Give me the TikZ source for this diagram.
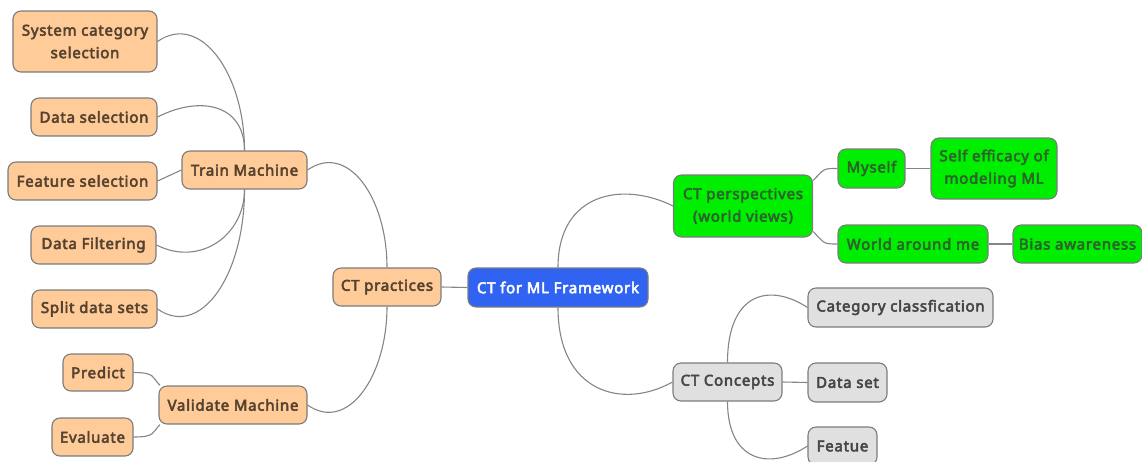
\documentclass[tikz,border=0pt]{standalone}
\usepackage{fontspec}
\setmainfont{Noto Sans}[BoldFont={Noto Sans}, BoldFeatures={FakeBold=3.5, LetterSpace=5}]
\usetikzlibrary{calc,backgrounds}
\definecolor{orfill}{HTML}{FFCB98}
\definecolor{ortext}{HTML}{554330}
\definecolor{grfill}{HTML}{00EE00}
\definecolor{grtext}{HTML}{2C642C}
\definecolor{blfill}{HTML}{3063F2}
\definecolor{gyfill}{HTML}{E0E0E0}
\definecolor{gytext}{HTML}{464646}
\definecolor{bord}{HTML}{7C7C7C}
\definecolor{edge}{HTML}{858585}
\begin{document}
\begin{tikzpicture}[x=1pt,y=-1pt,
  box/.style={draw=bord, line width=1.1pt, rounded corners=8pt, inner sep=1pt,
    align=center, font=\fontsize{15}{22.5}\selectfont\bfseries},
  orn/.style={box, fill=orfill, text=ortext},
  grn/.style={box, fill=grfill, text=grtext},
  blu/.style={box, fill=blfill, text=white},
  gry/.style={box, fill=gyfill, text=gytext},
  con/.style={draw=edge, line width=1.1pt}]
\useasboundingbox (0,0) rectangle (1142,461);
% left branch
\node[orn, minimum width=144pt, minimum height=61pt] (sys) at (85,41.5) {System category\\selection};
\node[orn, minimum width=126pt, minimum height=38pt] (dsel) at (94,117) {Data selection};
\node[orn, minimum width=149pt, minimum height=38pt] (fsel) at (82.5,181) {Feature selection};
\node[orn, minimum width=125pt, minimum height=38pt] (dfil) at (93.5,245) {Data Filtering};
\node[orn, minimum width=125pt, minimum height=38pt] (split) at (94.5,309) {Split data sets};
\node[orn, minimum width=70pt, minimum height=37pt] (pred) at (98,372.5) {Predict};
\node[orn, minimum width=81pt, minimum height=38pt] (eval) at (92.5,437) {Evaluate};
\node[orn, minimum width=148pt, minimum height=38pt] (valid) at (233,405) {Validate Machine};
\node[orn, minimum width=125pt, minimum height=38pt] (train) at (244.5,170) {Train Machine};
\node[orn, minimum width=108pt, minimum height=38pt] (prac) at (387,287) {CT practices};
% root
\node[blu, minimum width=180pt, minimum height=39pt] (root) at (558,287.5) {CT for ML Framework};
% right branch
\node[grn, minimum width=139pt, minimum height=62pt] (persp) at (743,206) {CT perspectives\\(world views)};
\node[grn, minimum width=67pt, minimum height=39pt] (myself) at (871.5,168.5) {Myself};
\node[grn, minimum width=126pt, minimum height=61pt] (self) at (994,168.5) {Self efficacy of\\modeling ML};
\node[grn, minimum width=150pt, minimum height=38pt] (world) at (913,244) {World around me};
\node[grn, minimum width=129pt, minimum height=38pt] (bias) at (1077.5,244) {Bias awareness};
\node[gry, minimum width=109pt, minimum height=38pt] (conc) at (727.5,382) {CT Concepts};
\node[gry, minimum width=185pt, minimum height=39pt] (cat) at (900.5,307.5) {Category classfication};
\node[gry, minimum width=79pt, minimum height=39pt] (dset) at (847.5,382.5) {Data set};
\node[gry, minimum width=69pt, minimum height=38pt] (feat) at (842.5,446) {Featue};
% connectors
\begin{scope}[on background layer]
\draw[con] (sys.east) .. controls +(43,-30) and +(0,-76) .. (train.north);
\draw[con] (dsel.east) .. controls +(43,-22) and +(0,-46) .. (train.north);
\draw[con] (fsel.east) -- (train.west);
\draw[con] (dfil.east) .. controls +(43,22) and +(0,46) .. (train.south);
\draw[con] (split.east) .. controls +(43,30) and +(0,86) .. (train.south);
\draw[con] (pred.east) .. controls +(22,0) and +(-8,-8) .. (valid.165);
\draw[con] (eval.east) .. controls +(22,0) and +(-8,8) .. (valid.195);
\draw[con] (train.east) .. controls +(40,-28) and +(0,-70) .. (prac.north);
\draw[con] (valid.east) .. controls +(40,28) and +(0,70) .. (prac.south);
\draw[con] (prac.east) -- (root.west);
\draw[con] (persp.west) .. controls +(-50,-25) and +(0,-75) .. (root.north);
\draw[con] (conc.west) .. controls +(-50,28) and +(0,85) .. (root.south);
\draw[con] (persp.20) .. controls +(12,-12) and +(-15,0) .. (myself.west);
\draw[con] (persp.-20) .. controls +(12,12) and +(-15,0) .. (world.west);
\draw[con] (myself.east) -- (self.west);
\draw[con] (world.east) -- (bias.west);
\draw[con] (cat.west) .. controls +(-38,-25) and +(0,-70) .. (conc.north);
\draw[con] (conc.east) -- (dset.west);
\draw[con] (feat.west) .. controls +(-38,25) and +(0,60) .. (conc.south);
\end{scope}
\end{tikzpicture}
\end{document}
